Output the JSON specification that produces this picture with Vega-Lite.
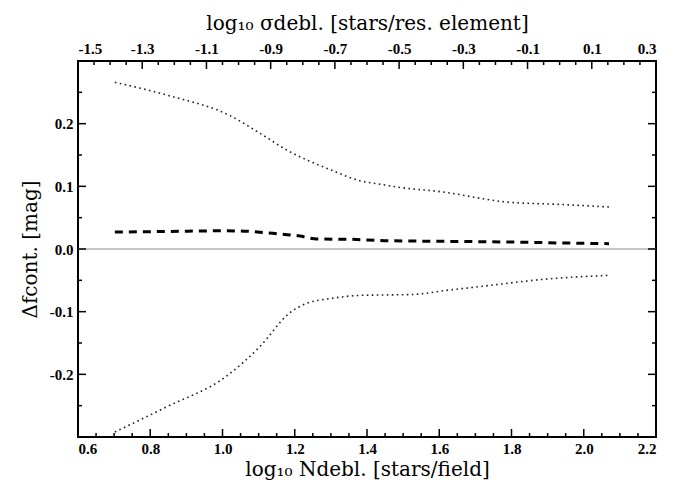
{
  "$schema": "https://vega.github.io/schema/vega-lite/v6.json",
  "width": 578,
  "height": 376,
  "autosize": "none",
  "padding": {"left": 78, "top": 61, "right": 27, "bottom": 51},
  "background": "white",
  "datasets": {
    "mean": [
      {"logN": 0.702, "df": 0.027},
      {"logN": 0.85, "df": 0.028},
      {"logN": 1.0, "df": 0.029},
      {"logN": 1.06, "df": 0.0285},
      {"logN": 1.139, "df": 0.025},
      {"logN": 1.214, "df": 0.0207},
      {"logN": 1.261, "df": 0.016},
      {"logN": 1.35, "df": 0.0155},
      {"logN": 1.449, "df": 0.0133},
      {"logN": 1.62, "df": 0.0122},
      {"logN": 1.803, "df": 0.0111},
      {"logN": 1.95, "df": 0.0095},
      {"logN": 2.07, "df": 0.0085}
    ],
    "upper": [
      {"logN": 0.702, "df": 0.266},
      {"logN": 0.85, "df": 0.245},
      {"logN": 1.02, "df": 0.213},
      {"logN": 1.10, "df": 0.186},
      {"logN": 1.178, "df": 0.158},
      {"logN": 1.305, "df": 0.125},
      {"logN": 1.38, "df": 0.109},
      {"logN": 1.435, "df": 0.1035},
      {"logN": 1.482, "df": 0.099},
      {"logN": 1.61, "df": 0.091},
      {"logN": 1.786, "df": 0.075},
      {"logN": 1.941, "df": 0.071},
      {"logN": 2.071, "df": 0.067}
    ],
    "lower": [
      {"logN": 0.702, "df": -0.292},
      {"logN": 0.845, "df": -0.252},
      {"logN": 1.011, "df": -0.203},
      {"logN": 1.103, "df": -0.156},
      {"logN": 1.186, "df": -0.102},
      {"logN": 1.232, "df": -0.087},
      {"logN": 1.306, "df": -0.0785},
      {"logN": 1.38, "df": -0.074},
      {"logN": 1.49, "df": -0.073},
      {"logN": 1.53, "df": -0.0725},
      {"logN": 1.62, "df": -0.066},
      {"logN": 1.712, "df": -0.06},
      {"logN": 1.896, "df": -0.048},
      {"logN": 2.071, "df": -0.042}
    ],
    "zero": [{"df": 0}],
    "top": [{"sigma": -1.5}, {"sigma": 0.3}],
    "xmajor": [{"v": 0.6}, {"v": 0.8}, {"v": 1.0}, {"v": 1.2}, {"v": 1.4}, {"v": 1.6}, {"v": 1.8}, {"v": 2.0}, {"v": 2.2}],
    "xminor": [{"v": 0.65}, {"v": 0.7}, {"v": 0.75}, {"v": 0.85}, {"v": 0.9}, {"v": 0.95}, {"v": 1.05}, {"v": 1.1}, {"v": 1.15}, {"v": 1.25}, {"v": 1.3}, {"v": 1.35}, {"v": 1.45}, {"v": 1.5}, {"v": 1.55}, {"v": 1.65}, {"v": 1.7}, {"v": 1.75}, {"v": 1.85}, {"v": 1.9}, {"v": 1.95}, {"v": 2.05}, {"v": 2.1}, {"v": 2.15}],
    "smajor": [{"v": -1.5}, {"v": -1.3}, {"v": -1.1}, {"v": -0.9}, {"v": -0.7}, {"v": -0.5}, {"v": -0.3}, {"v": -0.1}, {"v": 0.1}, {"v": 0.3}],
    "sminor": [{"v": -1.45}, {"v": -1.4}, {"v": -1.35}, {"v": -1.25}, {"v": -1.2}, {"v": -1.15}, {"v": -1.05}, {"v": -1.0}, {"v": -0.95}, {"v": -0.85}, {"v": -0.8}, {"v": -0.75}, {"v": -0.65}, {"v": -0.6}, {"v": -0.55}, {"v": -0.45}, {"v": -0.4}, {"v": -0.35}, {"v": -0.25}, {"v": -0.2}, {"v": -0.15}, {"v": -0.05}, {"v": 0.0}, {"v": 0.05}, {"v": 0.15}, {"v": 0.2}, {"v": 0.25}],
    "ymajor": [{"v": -0.3}, {"v": -0.2}, {"v": -0.1}, {"v": 0.0}, {"v": 0.1}, {"v": 0.2}, {"v": 0.3}],
    "yminor": [{"v": -0.25}, {"v": -0.15}, {"v": -0.05}, {"v": 0.05}, {"v": 0.15}, {"v": 0.25}]
  },
  "layer": [
    {
      "data": {"name": "zero"},
      "mark": {"type": "rule", "color": "#b4b4b4", "strokeWidth": 1.6},
      "encoding": {
        "y": {"field": "df", "type": "quantitative", "scale": {"domain": [-0.3, 0.3], "nice": false, "zero": false}, "axis": null}
      }
    },
    {
      "data": {"name": "mean"},
      "mark": {"type": "line", "color": "black", "strokeWidth": 3, "strokeDash": [8, 6], "interpolate": "monotone"},
      "encoding": {
        "x": {"field": "logN", "type": "quantitative",
          "scale": {"domain": [0.6, 2.2], "nice": false, "zero": false},
          "axis": {"orient": "bottom", "values": [0.6, 0.8, 1.0, 1.2, 1.4, 1.6, 1.8, 2.0, 2.2], "format": ".1f", "labelPadding": 4,
            "title": "log₁₀ Ndebl. [stars/field]", "titlePadding": 3}},
        "y": {"field": "df", "type": "quantitative",
          "scale": {"domain": [-0.3, 0.3], "nice": false, "zero": false},
          "axis": {"orient": "left", "values": [-0.2, -0.1, 0, 0.1, 0.2], "labelPadding": 5,
            "labelExpr": "datum.value < 0 ? '-' + format(-datum.value, '.1f') : format(datum.value, '.1f')",
            "title": "Δfcont. [mag]", "titlePadding": 9}}
      }
    },
    {
      "data": {"name": "upper"},
      "mark": {"type": "line", "color": "#222", "strokeWidth": 1.6, "strokeDash": [1.6, 3.4], "interpolate": "monotone"},
      "encoding": {
        "x": {"field": "logN", "type": "quantitative", "scale": {"domain": [0.6, 2.2], "nice": false, "zero": false}, "axis": null},
        "y": {"field": "df", "type": "quantitative", "scale": {"domain": [-0.3, 0.3], "nice": false, "zero": false}, "axis": null}
      }
    },
    {
      "data": {"name": "lower"},
      "mark": {"type": "line", "color": "#222", "strokeWidth": 1.6, "strokeDash": [1.6, 3.4], "interpolate": "monotone"},
      "encoding": {
        "x": {"field": "logN", "type": "quantitative", "scale": {"domain": [0.6, 2.2], "nice": false, "zero": false}, "axis": null},
        "y": {"field": "df", "type": "quantitative", "scale": {"domain": [-0.3, 0.3], "nice": false, "zero": false}, "axis": null}
      }
    },
    {
      "data": {"name": "top"},
      "mark": {"type": "point", "opacity": 0},
      "encoding": {
        "x": {"field": "sigma", "type": "quantitative",
          "scale": {"domain": [-1.5, 0.3], "nice": false, "zero": false},
          "axis": {"orient": "top", "values": [-1.5, -1.3, -1.1, -0.9, -0.7, -0.5, -0.3, -0.1, 0.1, 0.3], "labelPadding": 5,
            "labelExpr": "datum.value < 0 ? '-' + format(-datum.value, '.1f') : format(datum.value, '.1f')",
            "title": "log₁₀ σdebl. [stars/res. element]", "titlePadding": 8}}
      }
    },
    {
      "data": {"name": "xmajor"},
      "mark": {"type": "tick", "orient": "vertical", "size": 8, "thickness": 1.5, "color": "black", "opacity": 1, "yOffset": -4},
      "encoding": {
        "x": {"field": "v", "type": "quantitative", "scale": {"domain": [0.6, 2.2], "nice": false, "zero": false}, "axis": null},
        "y": {"datum": -0.3, "type": "quantitative", "scale": {"domain": [-0.3, 0.3], "nice": false, "zero": false}, "axis": null}
      }
    },
    {
      "data": {"name": "xminor"},
      "mark": {"type": "tick", "orient": "vertical", "size": 4, "thickness": 1.5, "color": "black", "opacity": 1, "yOffset": -2},
      "encoding": {
        "x": {"field": "v", "type": "quantitative", "scale": {"domain": [0.6, 2.2], "nice": false, "zero": false}, "axis": null},
        "y": {"datum": -0.3, "type": "quantitative", "scale": {"domain": [-0.3, 0.3], "nice": false, "zero": false}, "axis": null}
      }
    },
    {
      "data": {"name": "smajor"},
      "mark": {"type": "tick", "orient": "vertical", "size": 8, "thickness": 1.5, "color": "black", "opacity": 1, "yOffset": 4},
      "encoding": {
        "x": {"field": "v", "type": "quantitative", "scale": {"domain": [-1.5, 0.3], "nice": false, "zero": false}, "axis": null},
        "y": {"datum": 0.3, "type": "quantitative", "scale": {"domain": [-0.3, 0.3], "nice": false, "zero": false}, "axis": null}
      }
    },
    {
      "data": {"name": "sminor"},
      "mark": {"type": "tick", "orient": "vertical", "size": 4, "thickness": 1.5, "color": "black", "opacity": 1, "yOffset": 2},
      "encoding": {
        "x": {"field": "v", "type": "quantitative", "scale": {"domain": [-1.5, 0.3], "nice": false, "zero": false}, "axis": null},
        "y": {"datum": 0.3, "type": "quantitative", "scale": {"domain": [-0.3, 0.3], "nice": false, "zero": false}, "axis": null}
      }
    },
    {
      "data": {"name": "ymajor"},
      "mark": {"type": "tick", "orient": "horizontal", "size": 8, "thickness": 1.5, "color": "black", "opacity": 1, "xOffset": 4},
      "encoding": {
        "x": {"datum": 0.6, "type": "quantitative", "scale": {"domain": [0.6, 2.2], "nice": false, "zero": false}, "axis": null},
        "y": {"field": "v", "type": "quantitative", "scale": {"domain": [-0.3, 0.3], "nice": false, "zero": false}, "axis": null}
      }
    },
    {
      "data": {"name": "yminor"},
      "mark": {"type": "tick", "orient": "horizontal", "size": 4, "thickness": 1.5, "color": "black", "opacity": 1, "xOffset": 2},
      "encoding": {
        "x": {"datum": 0.6, "type": "quantitative", "scale": {"domain": [0.6, 2.2], "nice": false, "zero": false}, "axis": null},
        "y": {"field": "v", "type": "quantitative", "scale": {"domain": [-0.3, 0.3], "nice": false, "zero": false}, "axis": null}
      }
    },
    {
      "data": {"name": "ymajor"},
      "mark": {"type": "tick", "orient": "horizontal", "size": 8, "thickness": 1.5, "color": "black", "opacity": 1, "xOffset": -4},
      "encoding": {
        "x": {"datum": 2.2, "type": "quantitative", "scale": {"domain": [0.6, 2.2], "nice": false, "zero": false}, "axis": null},
        "y": {"field": "v", "type": "quantitative", "scale": {"domain": [-0.3, 0.3], "nice": false, "zero": false}, "axis": null}
      }
    },
    {
      "data": {"name": "yminor"},
      "mark": {"type": "tick", "orient": "horizontal", "size": 4, "thickness": 1.5, "color": "black", "opacity": 1, "xOffset": -2},
      "encoding": {
        "x": {"datum": 2.2, "type": "quantitative", "scale": {"domain": [0.6, 2.2], "nice": false, "zero": false}, "axis": null},
        "y": {"field": "v", "type": "quantitative", "scale": {"domain": [-0.3, 0.3], "nice": false, "zero": false}, "axis": null}
      }
    }
  ],
  "resolve": {"scale": {"x": "independent"}, "axis": {"x": "independent", "y": "independent"}},
  "config": {
    "view": {"stroke": "black", "strokeWidth": 2},
    "axis": {
      "domain": false,
      "ticks": false,
      "grid": false,
      "labelFont": "Liberation Serif",
      "labelFontWeight": "bold",
      "labelFontSize": 15,
      "labelColor": "black",
      "titleFont": "DejaVu Serif",
      "titleFontWeight": "normal",
      "titleFontSize": 20,
      "titleColor": "black"
    }
  }
}
